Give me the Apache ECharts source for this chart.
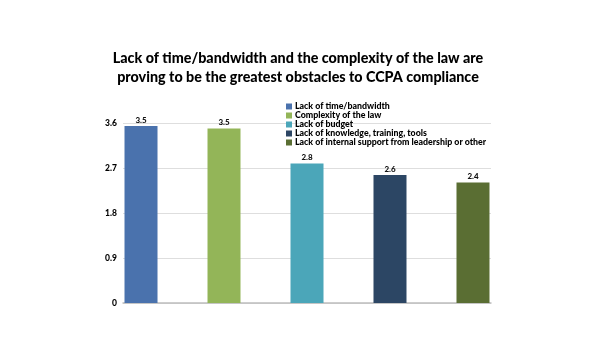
<!DOCTYPE html>
<html>
<head>
<meta charset="utf-8">
<script src="https://cdn.jsdelivr.net/npm/echarts@6/dist/echarts.min.js"></script>
<style>html,body{margin:0;padding:0;background:#fff;}#c{width:596px;height:358px;}</style>
</head>
<body>
<div id="c"></div>
<script>
var titleText = 'Lack of time/bandwidth and the complexity of the law are\nproving to be the greatest obstacles to CCPA compliance';
var seriesNames = ['Lack of time/bandwidth', 'Complexity of the law', 'Lack of budget', 'Lack of knowledge, training, tools', 'Lack of internal support from leadership or other'];
var seriesValues = [3.54, 3.49, 2.79, 2.56, 2.41];
var valueLabels = ['3.5', '3.5', '2.8', '2.6', '2.4'];
var seriesColors = ['#4a72ad', '#93b558', '#4ba6b9', '#2c4664', '#5a6e33'];
var yTicks = [0, 0.9, 1.8, 2.7, 3.6];

var FONT = 'Lato, "Open Sans", sans-serif';
var chart = echarts.init(document.getElementById('c'));
var series = seriesNames.map(function (n, i) {
  return {
    name: n, type: 'bar', data: [seriesValues[i]],
    barWidth: 33, barGap: '151.5%',
    itemStyle: { color: seriesColors[i] },
    label: { show: true, position: 'top', distance: 2, formatter: function () { return valueLabels[i]; },
      fontFamily: FONT, fontWeight: 900, fontSize: 8, color: '#111' }
  };
});
chart.setOption({
  animation: false,
  backgroundColor: '#fff',
  title: { text: titleText, left: 'center', top: 44,
    textStyle: { fontFamily: FONT, fontWeight: 900, fontSize: 14.3, lineHeight: 19, color: '#000' } },
  legend: { orient: 'vertical', left: 281, top: 97, itemWidth: 6, itemHeight: 6, itemGap: 0,
    icon: 'rect', data: seriesNames,
    textStyle: { fontFamily: FONT, fontWeight: 900, fontSize: 8.8, lineHeight: 8.2, color: '#000', padding: [0,0,0,-2] } },
  grid: { left: 123, right: 105, top: 123, bottom: 55 },
  xAxis: { type: 'category', data: [''],
    axisLine: { lineStyle: { color: '#bdbdbd', width: 1.5 } }, axisTick: { show: false }, axisLabel: { show: false } },
  yAxis: { type: 'value', min: yTicks[0], max: yTicks[yTicks.length - 1], interval: 0.9,
    axisLine: { show: false }, axisTick: { show: false },
    axisLabel: { fontFamily: FONT, fontWeight: 900, fontSize: 8.5, color: '#000', margin: 6,
      formatter: function (v) { return String(Math.round(v * 10) / 10); } },
    splitLine: { lineStyle: { color: '#dedede', width: 1 } } },
  series: series
});
</script>
</body>
</html>
